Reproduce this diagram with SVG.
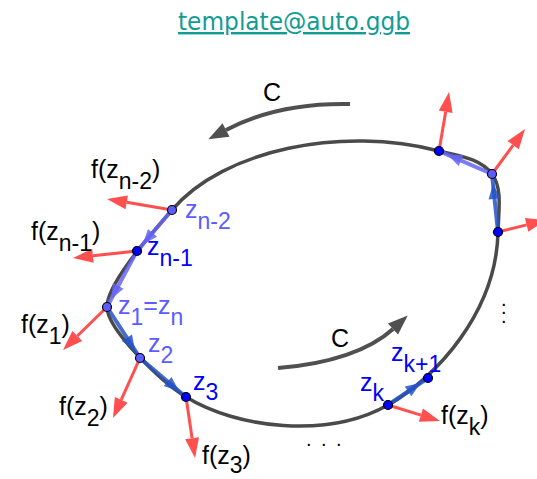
<svg xmlns="http://www.w3.org/2000/svg" width="537" height="479" viewBox="0 0 537 479">
<style>
.title{font-family:"DejaVu Sans","Liberation Sans",sans-serif;font-size:24px;fill:#139c93;text-decoration:underline}
.lab{font-family:"Liberation Sans",Arial,sans-serif;font-size:25px}
.sub{font-size:23px}
.blk{fill:#000}
.lt{fill:#5c5cff}
.bl{fill:#0000ff}
.curve{fill:none;stroke:#4a4a4a;stroke-width:3.5}
.carc{fill:none;stroke:#505050;stroke-width:4}
.chL{fill:none;stroke:#6464f4;stroke-width:4;stroke-opacity:0.85;marker-mid:url(#mL)}
.chD{fill:none;stroke:#2452c8;stroke-width:4;stroke-opacity:0.85;marker-mid:url(#mD)}
.fv{fill:none;stroke:#ff4f4f;stroke-width:3;marker-end:url(#mR)}
.ptL{fill:#5c5cff;stroke:#000;stroke-width:1.2}
.ptB{fill:#0000ff;stroke:#000;stroke-width:1.2}
.dots{font-family:"Liberation Sans",Arial,sans-serif;font-size:20px;fill:#000}
</style>
<defs>
<marker id="mR" markerUnits="userSpaceOnUse" markerWidth="22" markerHeight="14" refX="0" refY="7" orient="auto" overflow="visible"><path d="M0,0 L20,7 L0,14 z" fill="#ff4f4f"/></marker>
<marker id="mC" markerUnits="userSpaceOnUse" markerWidth="22" markerHeight="16" refX="0" refY="7.5" orient="auto" overflow="visible"><path d="M0,0 L20,7.5 L0,15 z" fill="#505050"/></marker>
<marker id="mL" markerUnits="userSpaceOnUse" markerWidth="16" markerHeight="12" refX="15" refY="6" orient="auto" overflow="visible"><path d="M0,0 L15,6 L0,12 z" fill="#6464f4" fill-opacity="0.85"/></marker>
<marker id="mD" markerUnits="userSpaceOnUse" markerWidth="16" markerHeight="12" refX="15" refY="6" orient="auto" overflow="visible"><path d="M0,0 L15,6 L0,12 z" fill="#2452c8" fill-opacity="0.85"/></marker>
</defs>
<rect width="537" height="479" fill="#fff"/>
<text class="title" x="294" y="30" text-anchor="middle" textLength="232" lengthAdjust="spacingAndGlyphs">template@auto.ggb</text>

<g id="contour">
<path class="curve" d="M439,151 C342,126 224,149.2 172,210 C155.75,229 107,282 107,307 C107,329 160.5,381.4 186,397 C237,428.2 327.1,439.3 388,405 C435.9,378 496.4,312 498,232 C498.4,212 502.8,188.4 492,174 C480,158 458.4,156 439,151 Z"/>
<path class="carc" d="M350,104 C300,103 260,112 226,130" marker-end="url(#mC)"/>
<text class="lab blk" x="263" y="101">C</text>
<path class="carc" d="M278,368 C330,364 370,350 393,329" marker-end="url(#mC)"/>
<text class="lab blk" x="331" y="347">C</text>
</g>

<g id="connectors">
<path class="chL" d="M172,210 L142.8,244.2 L137,251"/>
<path class="chL" d="M137,251 L111.2,299.1 L107,307"/>
<path class="chD" d="M107,307 L135.1,350.4 L140,358"/>
<path class="chD" d="M140,358 L179.1,391.2 L186,397"/>
<path class="chD" d="M388,405 L420.5,383 L428,378"/>
<path class="chD" d="M498,232 L493,184 L492,174"/>
<path class="chL" d="M492,174 L447.3,154.6 L439,151"/>
</g>

<g id="vectors">
<path class="fv" d="M172,210 L126.7,202.3"/>
<path class="fv" d="M137,251 L92.9,255.8"/>
<path class="fv" d="M107,307 L77.3,336"/>
<path class="fv" d="M140,358 L121.2,399.8"/>
<path class="fv" d="M186,397 L192.1,438.2"/>
<path class="fv" d="M388,405 L420.9,415.1"/>
<path class="fv" d="M498,232 L526.6,224.9"/>
<path class="fv" d="M492,174 L513.2,145.1"/>
<path class="fv" d="M439,151 L445.7,111.7"/>
</g>

<g id="z-n-2">
<circle class="ptL" cx="172" cy="210" r="4.5"/>
<text class="lab lt" x="185" y="218">z<tspan class="sub" dy="11">n-2</tspan></text>
<text class="lab blk" x="91" y="178">f(z<tspan class="sub" dy="11">n-2</tspan><tspan dy="-11">)</tspan></text>
</g>
<g id="z-n-1">
<circle class="ptB" cx="137" cy="251" r="4.5"/>
<text class="lab bl" x="147" y="255">z<tspan class="sub" dy="11">n-1</tspan></text>
<text class="lab blk" x="31" y="240">f(z<tspan class="sub" dy="11">n-1</tspan><tspan dy="-11">)</tspan></text>
</g>
<g id="z-1">
<circle class="ptL" cx="107" cy="307" r="4.5"/>
<text class="lab lt" x="118" y="314">z<tspan class="sub" dy="11">1</tspan><tspan dy="-11">=z</tspan><tspan class="sub" dy="11">n</tspan></text>
<text class="lab blk" x="21" y="333">f(z<tspan class="sub" dy="11">1</tspan><tspan dy="-11">)</tspan></text>
</g>
<g id="z-2">
<circle class="ptL" cx="140" cy="358" r="4.5"/>
<text class="lab lt" x="148" y="352">z<tspan class="sub" dy="11">2</tspan></text>
<text class="lab blk" x="59" y="415">f(z<tspan class="sub" dy="11">2</tspan><tspan dy="-11">)</tspan></text>
</g>
<g id="z-3">
<circle class="ptB" cx="186" cy="397" r="4.5"/>
<text class="lab bl" x="193" y="390">z<tspan class="sub" dy="10">3</tspan></text>
<text class="lab blk" x="202" y="464">f(z<tspan class="sub" dy="9">3</tspan><tspan dy="-9">)</tspan></text>
</g>
<g id="z-k">
<circle class="ptB" cx="388" cy="405" r="4.5"/>
<text class="lab bl" x="360" y="391">z<tspan class="sub" dy="10">k</tspan></text>
<text class="lab blk" x="441" y="424">f(z<tspan class="sub" dy="11">k</tspan><tspan dy="-11">)</tspan></text>
</g>
<g id="z-k1">
<circle class="ptB" cx="428" cy="378" r="4.5"/>
<text class="lab bl" x="391" y="361">z<tspan class="sub" dy="11">k+1</tspan></text>
</g>
<g id="p-right">
<circle class="ptB" cx="498" cy="232" r="4.5"/>
</g>
<g id="p-upper-right">
<circle class="ptL" cx="492" cy="174" r="4.5"/>
</g>
<g id="p-top">
<circle class="ptB" cx="439" cy="151" r="4.5"/>
</g>
<g id="ellipses">
<text class="dots" x="306 321 336" y="446">...</text>
<text class="dots" x="501 501 501" y="306 314 323">...</text>
</g>
</svg>
